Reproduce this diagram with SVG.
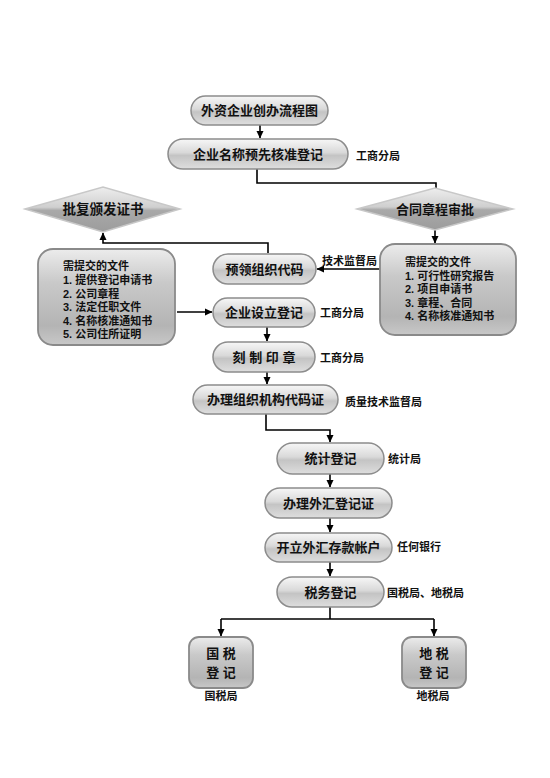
<svg xmlns="http://www.w3.org/2000/svg" width="550" height="778" viewBox="0 0 550 778">
<defs>
<linearGradient id="gPill" x1="0" y1="0" x2="0" y2="1">
<stop offset="0" stop-color="#f7f7f7"/>
<stop offset="0.45" stop-color="#d9d9d9"/>
<stop offset="0.55" stop-color="#c4c4c4"/>
<stop offset="1" stop-color="#dedede"/>
</linearGradient>
<linearGradient id="gBox" x1="0" y1="0" x2="0" y2="1">
<stop offset="0" stop-color="#ececec"/>
<stop offset="0.35" stop-color="#c9c9c9"/>
<stop offset="0.8" stop-color="#b4b4b4"/>
<stop offset="1" stop-color="#c8c8c8"/>
</linearGradient>
<linearGradient id="gDia" x1="0" y1="0" x2="0" y2="1">
<stop offset="0" stop-color="#eeeeee"/>
<stop offset="0.45" stop-color="#cfcfcf"/>
<stop offset="0.52" stop-color="#a9a9a9"/>
<stop offset="1" stop-color="#9c9c9c"/>
</linearGradient>
<marker id="ah" markerWidth="8" markerHeight="8" refX="7" refY="4" orient="auto" markerUnits="userSpaceOnUse">
<path d="M0,0.5 L7.5,4 L0,7.5 z" fill="#000"/>
</marker>
</defs>
<style>
.pill{fill:url(#gPill);stroke:#8c8c8c;stroke-width:1.5}
.box{fill:url(#gBox);stroke:#8a8a8a;stroke-width:1.8}
.dia{fill:url(#gDia);stroke:#c8c8c8;stroke-width:1.5}
text{font-family:"Liberation Sans","Noto Sans CJK SC",sans-serif;font-weight:bold;fill:#111}
.t{font-size:13px;text-anchor:middle}
.lab{font-size:11px}
.doc{font-size:11px}
.ln{fill:none;stroke:#000;stroke-width:1.6}
.ar{fill:none;stroke:#000;stroke-width:1.6;marker-end:url(#ah)}
</style>
<rect width="550" height="778" fill="#fff"/>

<g id="connectors">
<path class="ar" d="M260,125 V138"/>
<path class="ln" d="M257,169 V183 H436 V189"/>
<path class="ar" d="M435,230 V243"/>
<path class="ar" d="M380,269 H317"/>
<path class="ar" d="M268,253 V243 H103 V233"/>
<path class="ar" d="M177,312 H212"/>
<path class="ar" d="M267,327 V341"/>
<path class="ar" d="M267,372 V384"/>
<path class="ar" d="M266,414 V430 H330 V442"/>
<path class="ar" d="M330,474 V487"/>
<path class="ar" d="M330,518 V532"/>
<path class="ar" d="M330,562 V576"/>
<path class="ln" d="M330,607 V619"/>
<path class="ln" d="M221,619 H434"/>
<path class="ar" d="M221,619 V636"/>
<path class="ar" d="M434,619 V636"/>
</g>

<g id="n-title">
<rect class="pill" x="191" y="96" width="137" height="29" rx="14.5"/>
<text class="t" x="259.5" y="115">外资企业创办流程图</text>
</g>
<g id="n-name">
<rect class="pill" x="168" y="139" width="180" height="30" rx="15"/>
<text class="t" x="258" y="158.5">企业名称预先核准登记</text>
<text class="lab" x="356" y="160">工商分局</text>
</g>
<g id="n-approve">
<polygon class="dia" points="25,209 103,187 180,209 103,232"/>
<text class="t" x="103" y="213.5" style="font-size:13.5px">批复颁发证书</text>
</g>
<g id="n-contract">
<polygon class="dia" points="357,209 435,188 513,209 435,230"/>
<text class="t" x="435" y="213.5">合同章程审批</text>
</g>
<g id="n-docs-left">
<rect class="box" x="38" y="249" width="137" height="96" rx="15"/>
<text class="doc" x="63" y="270">需提交的文件</text>
<text class="doc" x="63" y="284">1. 提供登记申请书</text>
<text class="doc" x="63" y="297.5">2. 公司章程</text>
<text class="doc" x="63" y="311">3. 法定任职文件</text>
<text class="doc" x="63" y="324.5">4. 名称核准通知书</text>
<text class="doc" x="63" y="338">5. 公司住所证明</text>
</g>
<g id="n-docs-right">
<rect class="box" x="380" y="244" width="136" height="91" rx="15"/>
<text class="doc" x="405" y="266">需提交的文件</text>
<text class="doc" x="405" y="279.5">1. 可行性研究报告</text>
<text class="doc" x="405" y="293">2. 项目申请书</text>
<text class="doc" x="405" y="306.5">3. 章程、合同</text>
<text class="doc" x="405" y="320">4. 名称核准通知书</text>
</g>
<g id="n-precode">
<rect class="pill" x="213" y="254" width="103" height="30" rx="15"/>
<text class="t" x="264.5" y="273.5">预领组织代码</text>
<text class="lab" x="322" y="265">技术监督局</text>
</g>
<g id="n-setup">
<rect class="pill" x="213" y="298" width="102" height="29" rx="14.5"/>
<text class="t" x="264" y="317">企业设立登记</text>
<text class="lab" x="320" y="317">工商分局</text>
</g>
<g id="n-seal">
<rect class="pill" x="213" y="342" width="102" height="30" rx="15"/>
<text class="t" x="264" y="361.5">刻 制 印 章</text>
<text class="lab" x="320" y="362">工商分局</text>
</g>
<g id="n-orgcode">
<rect class="pill" x="193" y="385" width="145" height="29" rx="14.5"/>
<text class="t" x="265.5" y="404">办理组织机构代码证</text>
<text class="lab" x="345" y="406">质量技术监督局</text>
</g>
<g id="n-stat">
<rect class="pill" x="277" y="443" width="107" height="31" rx="15.5"/>
<text class="t" x="330.5" y="463">统计登记</text>
<text class="lab" x="388" y="463">统计局</text>
</g>
<g id="n-fx">
<rect class="pill" x="265" y="488" width="127" height="30" rx="15"/>
<text class="t" x="328.5" y="507.5">办理外汇登记证</text>
</g>
<g id="n-account">
<rect class="pill" x="265" y="533" width="127" height="29" rx="14.5"/>
<text class="t" x="328.5" y="552">开立外汇存款帐户</text>
<text class="lab" x="397" y="551">任何银行</text>
</g>
<g id="n-tax">
<rect class="pill" x="277" y="577" width="107" height="30" rx="15"/>
<text class="t" x="330.5" y="596.5">税务登记</text>
<text class="lab" x="387" y="597">国税局、地税局</text>
</g>
<g id="n-ntax">
<rect class="box" x="189" y="637" width="64" height="51" rx="10"/>
<text class="t" x="221" y="658">国 税</text>
<text class="t" x="221" y="677">登 记</text>
<text class="lab" x="221" y="700" text-anchor="middle">国税局</text>
</g>
<g id="n-ltax">
<rect class="box" x="402" y="637" width="64" height="51" rx="10"/>
<text class="t" x="434" y="658">地 税</text>
<text class="t" x="434" y="677">登 记</text>
<text class="lab" x="433" y="700" text-anchor="middle">地税局</text>
</g>
</svg>
